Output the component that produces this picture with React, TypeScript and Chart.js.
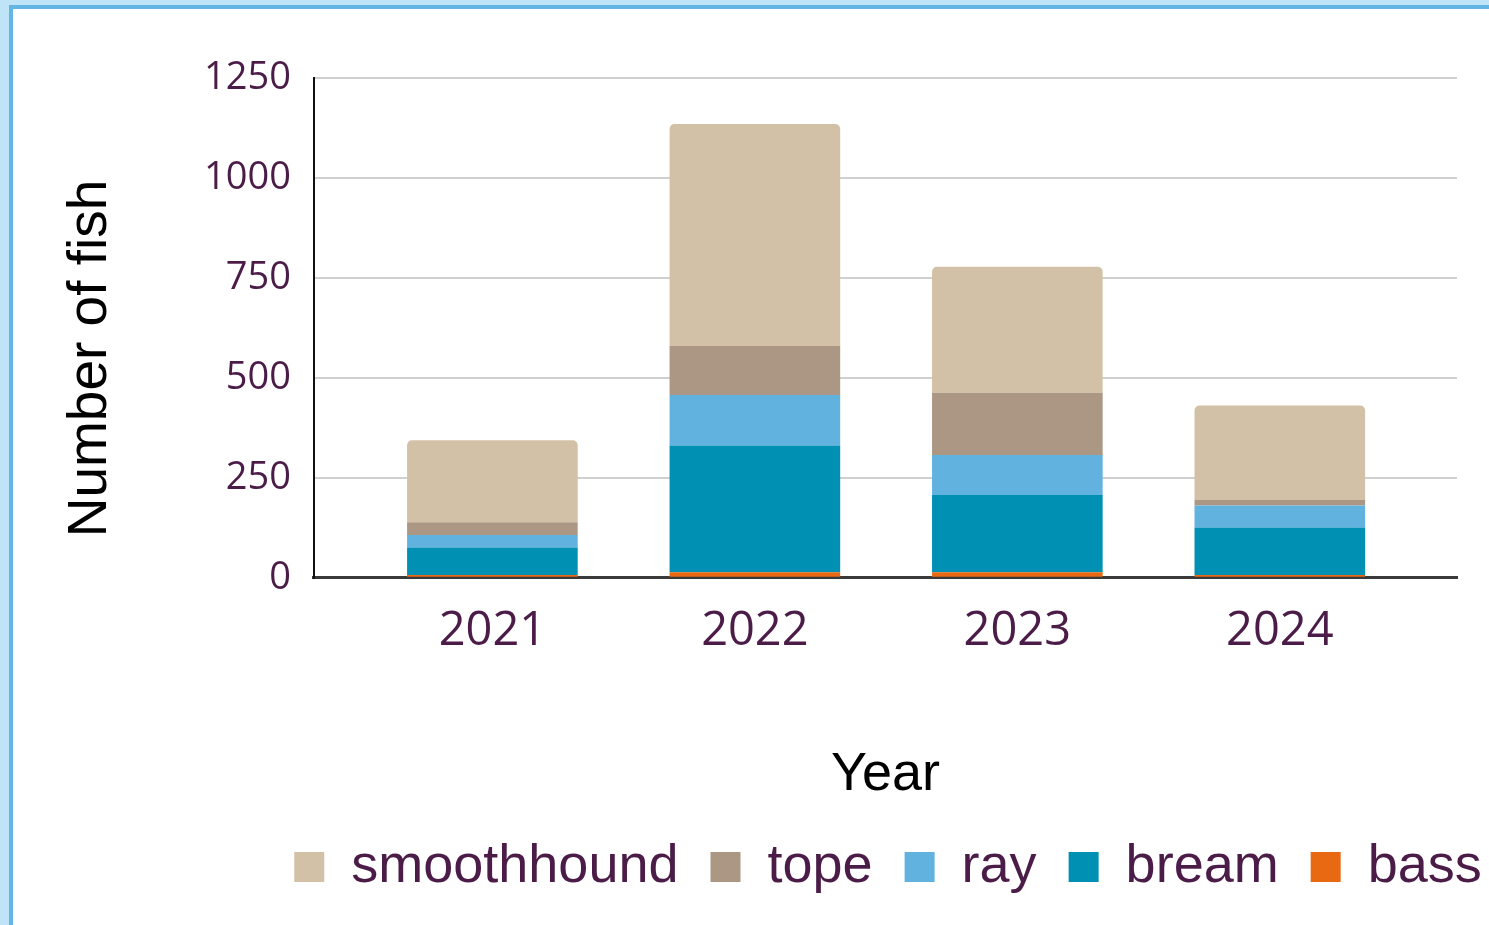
import React, { useEffect, useRef } from 'react';
import { Chart, registerables } from 'chart.js';

Chart.register(...registerables);

const years = [2021, 2022, 2023, 2024];
const smoothhound = [205, 555, 315, 236];
const tope = [32, 123, 156, 14];
const ray = [31, 126, 100, 55];
const bream = [69, 317, 193, 119];
const bass = [7, 14, 14, 7];
const yTickValues = [0, 250, 500, 750, 1000, 1250];

const seriesNames = ['bass', 'bream', 'ray', 'tope', 'smoothhound'];
const seriesValues = [bass, bream, ray, tope, smoothhound];
const seriesColors = ['#e96812', '#0090b3', '#62b2e0', '#ab9783', '#d3c1a7'];

const PURPLE = '#4b1c48';

export default function App() {
  const ref = useRef<HTMLCanvasElement | null>(null);

  useEffect(() => {
    const canvas = ref.current;
    if (!canvas) return;
    const datasets = seriesNames.map((name, si) => ({
      label: name,
      data: years.map((yr, i) => ({ x: yr, y: seriesValues[si][i] })),
      backgroundColor: seriesColors[si],
      borderWidth: 0,
      borderRadius: si === seriesNames.length - 1 ? { topLeft: 5, topRight: 5, bottomLeft: 0, bottomRight: 0 } : 0,
      borderSkipped: false as any,
      barPercentage: 0.65,
      categoryPercentage: 1,
    }));
    const chart = new Chart(canvas, {
      type: 'bar',
      data: { datasets },
      options: {
        animation: false,
        responsive: false,
        maintainAspectRatio: false,
        layout: { padding: { left: 0, top: 69, right: 0, bottom: 21 } },
        plugins: {
          tooltip: { enabled: false },
          legend: {
            position: 'bottom',
            reverse: true,
            labels: {
              boxWidth: 30,
              boxHeight: 30,
              padding: 32,
              color: PURPLE,
              font: { family: '"Liberation Sans", Arial, sans-serif', size: 54 },
            },
          },
        },
        scales: {
          x: {
            type: 'linear',
            stacked: true,
            offset: false,
            min: 2020.32,
            max: 2024.675,
            afterBuildTicks: (axis: any) => {
              axis.ticks = years.map((v) => ({ value: v }));
            },
            grid: { display: false, drawTicks: false },
            border: { display: true, color: '#3a3a3a', width: 3 },
            ticks: {
              padding: 26,
              color: PURPLE,
              font: { family: '"Open Sans", sans-serif', size: 47 },
              callback: (v: any) => String(v),
            },
            title: {
              display: true,
              text: 'Year',
              color: '#000',
              font: { family: '"Liberation Sans", Arial, sans-serif', size: 54 },
              padding: { top: 57, bottom: 0 },
            },
          },
          y: {
            stacked: true,
            min: 0,
            max: 1250,
            afterBuildTicks: (axis: any) => {
              axis.ticks = yTickValues.map((v) => ({ value: v }));
            },
            grid: { color: '#d0d0d0', lineWidth: 2, drawTicks: false },
            border: { display: true, color: '#111', width: 2 },
            ticks: {
              padding: 23,
              color: PURPLE,
              font: { family: '"Open Sans", sans-serif', size: 38 },
              callback: (v: any) => String(v),
            },
            title: {
              display: true,
              text: 'Number of fish    ',
              color: '#000',
              font: { family: '"Liberation Sans", Arial, sans-serif', size: 55 },
              padding: { top: 45, bottom: 57 },
            },
          },
          spacer: {
            type: 'linear',
            position: 'right',
            display: true,
            grid: { display: false, drawTicks: false },
            border: { display: false },
            ticks: { display: false },
            afterFit: (scale: any) => {
              scale.width = 306;
            },
          },
        },
      },
    });
    return () => chart.destroy();
  }, []);

  return (
    <div
      style={{
        position: 'fixed',
        left: 0,
        top: 0,
        width: 1489,
        height: 925,
        overflow: 'hidden',
        background: '#c0e4f7',
      }}
    >
      <div
        style={{
          position: 'absolute',
          left: 9,
          top: 5,
          width: 1800,
          height: 1000,
          borderLeft: '4px solid #63b5e3',
          borderTop: '4px solid #63b5e3',
          background: '#ffffff',
        }}
      >
        <canvas ref={ref} width={1750} height={916} style={{ display: 'block', width: 1750, height: 916 }} />
      </div>
    </div>
  );
}
